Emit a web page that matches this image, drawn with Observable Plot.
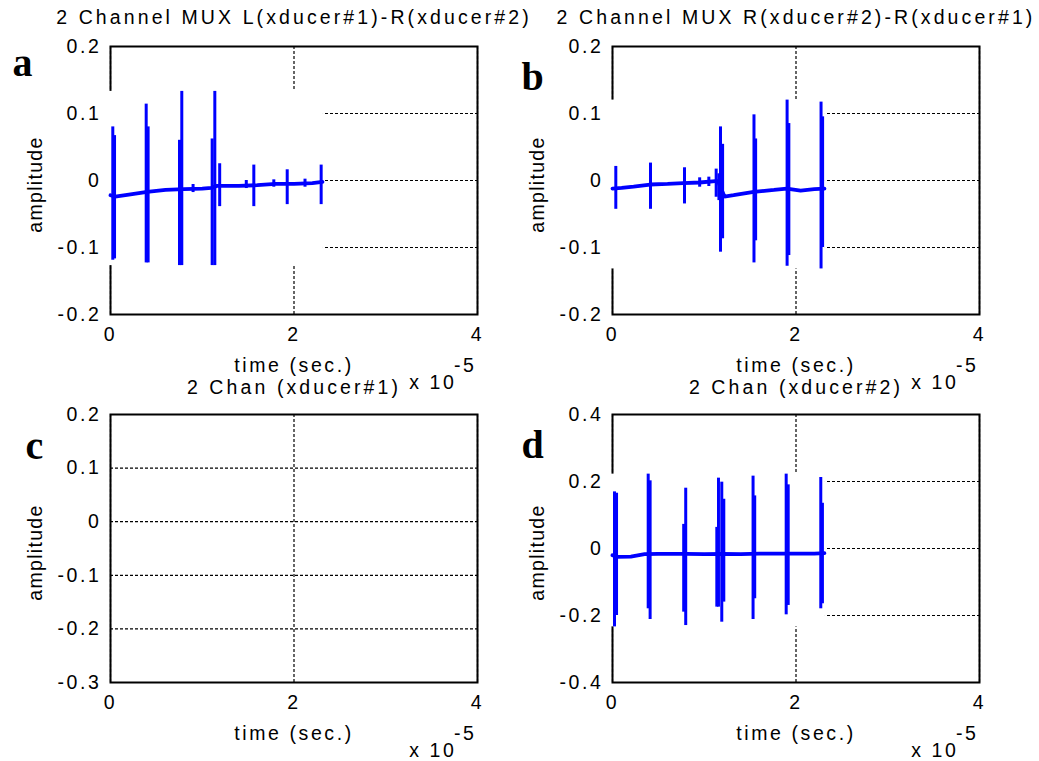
<!DOCTYPE html>
<html><head><meta charset="utf-8">
<script src="https://cdn.jsdelivr.net/npm/d3@7"></script>
<script src="https://cdn.jsdelivr.net/npm/@observablehq/plot@0.6"></script>
<style>
html,body{margin:0;padding:0;background:#fff;}
#chart{position:relative;width:1039px;height:761px;overflow:hidden;background:#fff;}
#chart svg{position:absolute;overflow:visible;}
#chart svg text{letter-spacing:2.6px;}
</style></head><body><div id="chart"></div>
<script>
// ---------- data ----------
const titles = [
  "2 Channel MUX L(xducer#1)-R(xducer#2)",
  "2 Channel MUX R(xducer#2)-R(xducer#1)",
  "2 Chan (xducer#1)",
  "2 Chan (xducer#2)"
];
const letters = ["a", "b", "c", "d"];
const xLabel = "time (sec.)";
const yLabel = "amplitude";
const expBase = "x 10";
const expPower = "-5";
const xTicks = [0, 2, 4];                 // time, units of 1e-5 s
const yTicksA = [-0.2, -0.1, 0, 0.1, 0.2];
const yTicksB = [-0.2, -0.1, 0, 0.1, 0.2];
const yTicksC = [-0.3, -0.2, -0.1, 0, 0.1, 0.2];
const yTicksD = [-0.4, -0.2, 0, 0.2, 0.4];

// panel a: slowly drifting baseline + bursts (each burst = a few vertical strokes)
const baseA_t = [0, 0.05, 0.2, 0.4, 0.6, 0.8, 1.0, 1.1, 1.16, 1.4, 1.6, 1.8, 2.0, 2.2, 2.31];
const baseA_v = [-0.022, -0.024, -0.021, -0.017, -0.014, -0.013, -0.012, -0.011, -0.008, -0.008, -0.007, -0.005, -0.005, -0.004, -0.002];
const burstA_t   = [0.025, 0.044, 0.389, 0.41, 0.752, 0.777, 1.108, 1.137, 1.19, 1.562, 1.926, 2.296, 0.9, 1.48, 1.78, 2.12];
const burstA_top = [0.080, 0.067, 0.114, 0.080, 0.060, 0.133, 0.062, 0.133, 0.025, 0.023, 0.016, 0.023, -0.006, 0.000, 0.001, 0.002];
const burstA_bot = [-0.119, -0.117, -0.123, -0.123, -0.127, -0.127, -0.127, -0.127, -0.039, -0.039, -0.036, -0.036, -0.018, -0.012, -0.010, -0.010];

// panel b
const baseB_t = [0, 0.1, 0.23, 0.41, 0.6, 0.77, 0.95, 1.12, 1.15, 1.22, 1.32, 1.54, 1.76, 1.9, 2.05, 2.2, 2.31];
const baseB_v = [-0.012, -0.011, -0.009, -0.006, -0.005, -0.004, -0.003, -0.001, -0.001, -0.024, -0.022, -0.017, -0.014, -0.012, -0.015, -0.013, -0.012];
const burstB_t   = [0.036, 0.414, 0.785, 1.13, 1.16, 1.177, 1.2, 1.542, 1.56, 1.903, 1.922, 2.273, 2.29, 0.95, 1.05];
const burstB_top = [0.021, 0.026, 0.019, 0.017, 0.010, 0.080, 0.054, 0.098, 0.062, 0.120, 0.085, 0.117, 0.095, 0.004, 0.005];
const burstB_bot = [-0.043, -0.043, -0.035, -0.025, -0.030, -0.107, -0.087, -0.123, -0.090, -0.128, -0.112, -0.132, -0.100, -0.010, -0.009];

// panel c: no signal

// panel d
const baseD_t = [0, 0.05, 0.2, 0.35, 0.5, 0.8, 1.0, 1.2, 1.4, 1.6, 1.8, 2.0, 2.2, 2.31];
const baseD_v = [-0.020, -0.025, -0.024, -0.017, -0.016, -0.016, -0.017, -0.016, -0.017, -0.015, -0.015, -0.015, -0.015, -0.014];
const burstD_t   = [0.022, 0.044, 0.389, 0.41, 0.776, 0.798, 1.137, 1.155, 1.191, 1.213, 1.532, 1.55, 1.893, 1.915, 2.27, 2.288];
const burstD_top = [0.169, 0.165, 0.222, 0.202, 0.072, 0.180, 0.063, 0.210, 0.198, 0.147, 0.216, 0.157, 0.222, 0.190, 0.212, 0.135];
const burstD_bot = [-0.234, -0.200, -0.180, -0.212, -0.190, -0.230, -0.175, -0.175, -0.220, -0.160, -0.212, -0.150, -0.198, -0.170, -0.180, -0.165];

// ---------- layout / drawing ----------
const panels = [
  {i: 0, yTicks: yTicksA, baseT: baseA_t, baseV: baseA_v, bT: burstA_t, bTop: burstA_top, bBot: burstA_bot,
   left: 0, top: 0, width: 502, height: 400, mr: 25, mb: 86, titleDy: -23, letterDx: -98, letterDy: 29},
  {i: 1, yTicks: yTicksB, baseT: baseB_t, baseV: baseB_v, bT: burstB_t, bTop: burstB_top, bBot: burstB_bot,
   left: 502, top: 0, width: 537, height: 400, mr: 60, mb: 86, titleDy: -23, letterDx: -91, letterDy: 43},
  {i: 2, yTicks: yTicksC, baseT: [], baseV: [], bT: [], bTop: [], bBot: [],
   left: 0, top: 368, width: 502, height: 393, mr: 25, mb: 79, titleDy: -21, letterDx: -85, letterDy: 44},
  {i: 3, yTicks: yTicksD, baseT: baseD_t, baseV: baseD_v, bT: burstD_t, bTop: burstD_top, bBot: burstD_bot,
   left: 502, top: 368, width: 537, height: 393, mr: 60, mb: 79, titleDy: -21, letterDx: -91, letterDy: 43}
];

const blue = "#0000ff";
const chart = document.getElementById("chart");

for (const p of panels) {
  const base = p.baseT.map((t, k) => ({t, v: p.baseV[k]}));
  const strokes = p.bT.map((t, k) => ({t, top: p.bTop[k], bot: p.bBot[k]}));
  const marks = [
    Plot.gridX(xTicks, {stroke: "black", strokeOpacity: 1, strokeWidth: 1.2, strokeDasharray: "3,2"}),
    Plot.gridY(p.yTicks, {stroke: "black", strokeOpacity: 1, strokeWidth: 1.2, strokeDasharray: "3,2"}),
    Plot.frame({stroke: "black", strokeWidth: 2})
  ];
  if (base.length) {
    const ext = [{
      x1: 0,
      x2: d3.max(base, d => d.t),
      y1: d3.min([...strokes.map(d => d.bot), ...base.map(d => d.v)]),
      y2: d3.max([...strokes.map(d => d.top), ...base.map(d => d.v)])
    }];
    marks.push(
      Plot.rect(ext, {x1: "x1", x2: "x2", y1: "y1", y2: "y2", fill: "white", insetLeft: -2, insetRight: -1}),
      Plot.line(base, {x: "t", y: "v", stroke: blue, strokeWidth: 3.8, strokeLinejoin: "miter"}),
      Plot.ruleX(strokes, {x: "t", y1: "bot", y2: "top", stroke: blue, strokeWidth: 3})
    );
  }
  marks.push(
    Plot.axisX(xTicks, {tickSize: 0, tickPadding: 13, tickFormat: d => String(d), label: null}),
    Plot.axisY(p.yTicks, {tickSize: 0, tickPadding: 9, tickFormat: d => String(d), label: null}),
    Plot.text([titles[p.i]], {text: d => d, frameAnchor: "top", lineAnchor: "bottom", dy: p.titleDy}),
    Plot.text([xLabel], {text: d => d, frameAnchor: "bottom", lineAnchor: "bottom", dy: 57}),
    Plot.text([yLabel], {text: d => d, frameAnchor: "left", textAnchor: "middle", lineAnchor: "middle", rotate: -90, dx: -75, dy: 4}),
    Plot.text([expBase], {text: d => d, frameAnchor: "bottom-right", textAnchor: "end", lineAnchor: "bottom", dx: -21, dy: 74}),
    Plot.text([expPower], {text: d => d, frameAnchor: "bottom-right", textAnchor: "end", lineAnchor: "bottom", dx: -1, dy: 57}),
    Plot.text([letters[p.i]], {text: d => d, frameAnchor: "top-left", textAnchor: "start", lineAnchor: "bottom",
      dx: p.letterDx, dy: p.letterDy, fontFamily: "'Liberation Serif', 'Times New Roman', serif", fontWeight: "bold", fontSize: 40})
  );
  const svg = Plot.plot({
    width: p.width, height: p.height,
    marginLeft: 110, marginRight: p.mr, marginTop: 46, marginBottom: p.mb,
    x: {domain: d3.extent(xTicks)},
    y: {domain: d3.extent(p.yTicks)},
    style: {background: "transparent", fontFamily: "'Liberation Sans', Arial, sans-serif", fontSize: "19.5px", color: "black", overflow: "visible", maxWidth: "none"},
    marks
  });
  // per-text letter spacing to mimic the wide MATLAB glyph spacing
  d3.select(svg).selectAll("text").each(function () {
    const s = this.textContent;
    if (s === titles[p.i]) this.style.letterSpacing = "3.1px";
    else if (s === yLabel) this.style.letterSpacing = "1.3px";
    else if (s === letters[p.i]) this.style.letterSpacing = "0px";
  });
  svg.style.left = p.left + "px";
  svg.style.top = p.top + "px";
  chart.appendChild(svg);
}
</script>
</body></html>
